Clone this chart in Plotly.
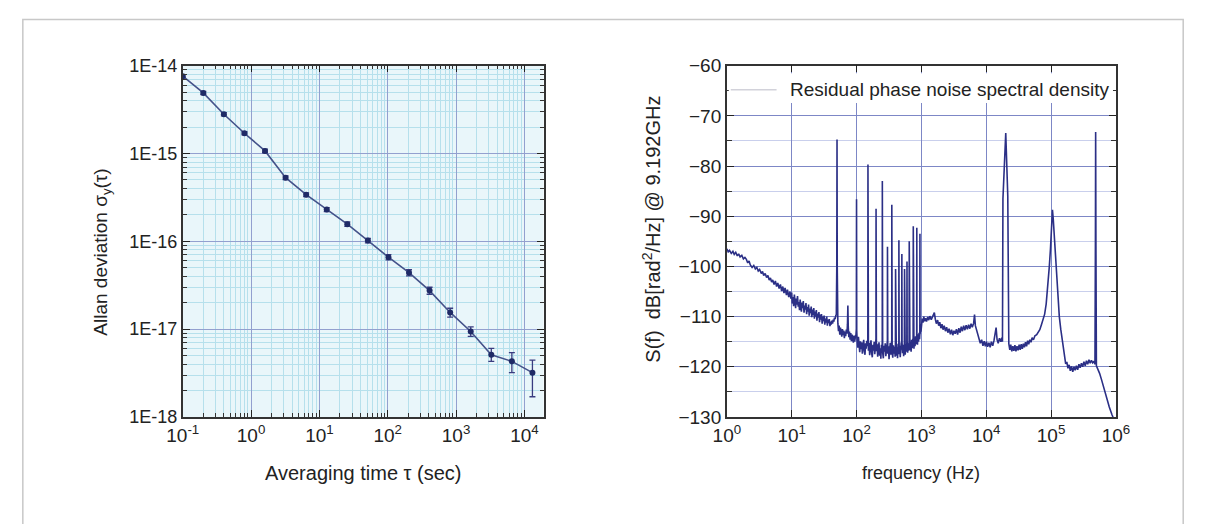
import plotly.graph_objects as go

W, H = 1205, 524

# ---------------- Left panel: Allan deviation ----------------
tau_sec = [0.1, 0.2, 0.4, 0.8, 1.6, 3.2, 6.4, 12.8, 25.6, 51.2, 102.4, 204.8,
           409.6, 819.2, 1638.4, 3276.8, 6553.6, 13107.2]
allan_dev = [7.6e-15, 4.9e-15, 2.8e-15, 1.7e-15, 1.07e-15, 5.3e-16, 3.4e-16,
             2.3e-16, 1.57e-16, 1.02e-16, 6.6e-17, 4.4e-17, 2.75e-17, 1.55e-17,
             9.4e-18, 5.1e-18, 4.3e-18, 3.2e-18]
err_up = [0.3e-15, 0.2e-15, 0.12e-15, 0.07e-15, 0.05e-15, 0.25e-16, 0.17e-16,
          0.12e-16, 0.09e-16, 0.06e-16, 0.45e-17, 0.35e-17, 0.25e-17, 0.18e-17,
          1.2e-18, 0.95e-18, 1.1e-18, 1.25e-18]
err_down = [0.3e-15, 0.2e-15, 0.12e-15, 0.07e-15, 0.05e-15, 0.25e-16, 0.17e-16,
            0.12e-16, 0.09e-16, 0.06e-16, 0.45e-17, 0.35e-17, 0.25e-17, 0.18e-17,
            1.1e-18, 0.8e-18, 1.1e-18, 1.5e-18]

left_x_tickvals = [0.1, 1, 10, 100, 1000, 10000]
left_x_ticktext = ["10<sup>-1</sup>", "10<sup>0</sup>", "10<sup>1</sup>",
                   "10<sup>2</sup>", "10<sup>3</sup>", "10<sup>4</sup>"]
left_y_tickvals = [1e-18, 1e-17, 1e-16, 1e-15, 1e-14]
left_y_ticktext = ["1E-18", "1E-17", "1E-16", "1E-15", "1E-14"]

# ---------------- Right panel: residual phase noise (Hz, dB) ----------------
spectrum_hz_db = [
    # 1 - 10 Hz
    (1.0, -96.5), (1.05, -97.1), (1.1, -96.8), (1.17, -97.4), (1.24, -97.0),
    (1.3, -97.6), (1.37, -97.2), (1.45, -97.9), (1.52, -97.5), (1.6, -98.1),
    (1.7, -97.8), (1.8, -98.5), (1.9, -98.2), (2.0, -98.6), (2.1, -99.3),
    (2.2, -98.9), (2.3, -99.7), (2.45, -100.2), (2.6, -99.8), (2.75, -100.5),
    (2.9, -100.2), (3.05, -100.9), (3.2, -100.6), (3.4, -101.4), (3.55, -101.0),
    (3.7, -101.8), (3.9, -101.4), (4.1, -102.2), (4.3, -101.8), (4.5, -102.7),
    (4.7, -102.3), (4.9, -103.1), (5.1, -102.7), (5.35, -103.6), (5.6, -102.9),
    (5.85, -104.0), (6.1, -103.3), (6.4, -104.4), (6.7, -103.6), (7.0, -104.9),
    (7.3, -104.0), (7.6, -105.3), (7.9, -104.3), (8.3, -105.7), (8.6, -104.6),
    (9.0, -106.1), (9.4, -105.0), (9.7, -106.4),
    # 10 - 50 Hz
    (10.0, -105.2), (10.2, -107.4), (10.5, -106.1), (10.7, -107.9), (11.0, -105.6),
    (11.2, -106.8), (11.5, -108.3), (11.7, -106.4), (12.0, -107.6), (12.3, -105.9),
    (12.6, -108.0), (12.9, -107.1), (13.2, -108.7), (13.5, -106.6), (13.8, -107.5),
    (14.1, -109.0), (14.5, -107.2), (14.8, -108.3), (15.1, -106.9), (15.5, -109.2),
    (15.9, -107.8), (16.2, -108.6), (16.6, -107.3), (17.0, -109.5), (17.4, -108.1),
    (17.8, -109.0), (18.2, -107.6), (18.6, -109.8), (19.1, -108.4), (19.5, -109.3),
    (20.0, -108.0), (20.4, -110.1), (20.9, -108.6), (21.4, -109.7), (21.9, -108.3),
    (22.4, -110.4), (22.9, -109.0), (23.4, -110.0), (24.0, -108.7), (24.5, -110.8),
    (25.1, -109.4), (25.7, -110.2), (26.3, -109.1), (26.9, -111.1), (27.5, -109.6),
    (28.2, -110.6), (28.8, -109.5), (29.5, -111.4), (30.2, -110.0), (30.9, -110.9),
    (31.6, -109.8), (32.4, -111.6), (33.1, -110.4), (33.9, -111.2), (34.7, -110.0),
    (35.5, -111.8), (36.3, -110.6), (37.2, -111.3), (38.0, -110.5), (38.9, -111.9),
    (39.8, -111.0), (40.7, -111.6), (41.7, -110.8), (42.7, -111.4), (43.7, -110.6),
    (44.7, -111.0), (45.7, -110.2), (46.8, -110.5), (47.9, -109.8), (48.8, -109.6),
    (49.6, -100.0), (50.0, -74.7), (50.4, -100.0),
    # 50 - 100 Hz
    (51.5, -111.3), (52.7, -112.9), (53.9, -111.8), (55.2, -113.6), (56.5, -112.2),
    (57.8, -113.1), (59.2, -114.0), (60.6, -112.5), (62.0, -113.7), (63.4, -112.8),
    (64.9, -114.3), (66.4, -113.0), (68.0, -113.9), (69.6, -112.6), (71.2, -113.4),
    (72.5, -111.5), (73.5, -107.8), (74.5, -112.0), (76.0, -114.1), (77.8, -113.0),
    (79.6, -114.6), (81.5, -113.3), (83.4, -114.9), (85.3, -113.6), (87.3, -114.4),
    (89.4, -115.2), (91.5, -113.8), (93.6, -115.0), (95.8, -114.1), (98.0, -113.6),
    (99.3, -112.5), (100.0, -86.6), (100.7, -112.8),
    # 100 - 1000 Hz with line harmonics
    (102, -114.6), (104.5, -116.2), (107, -114.0), (109.5, -115.7), (112, -117.1),
    (114.5, -114.9), (117, -116.5), (120, -115.1), (123, -117.4), (126, -115.8),
    (129, -114.6), (132, -116.9), (135, -117.6), (138, -115.3), (141, -116.4),
    (144, -114.8), (147.5, -115.9), (149.3, -114.5), (150, -79.7), (150.7, -114.5),
    (152.5, -116.8), (156, -115.2), (159.5, -117.7), (163, -116.0), (167, -114.7),
    (171, -117.3), (175, -118.1), (179, -115.6), (183, -116.8), (187, -115.0),
    (191, -117.5), (195, -116.2), (198, -114.6), (199.3, -114.4), (200, -88.5),
    (200.7, -114.6), (202.5, -116.9), (207, -115.4), (212, -118.0), (217, -116.6),
    (222, -115.1), (227, -117.8), (232, -116.3), (237, -118.4), (242, -115.6),
    (247, -116.5), (249.2, -115.0), (250, -83.0), (250.8, -115.2), (253, -117.2),
    (259, -118.3), (265, -115.8), (271, -117.0), (277, -115.3), (283, -117.9),
    (290, -116.4), (296.5, -115.5), (299.2, -114.8), (300, -96.1), (300.8, -115.0),
    (303.5, -117.4), (310, -115.9), (317, -118.5), (324, -116.7), (331, -115.2),
    (338, -117.6), (345.5, -115.9), (349.2, -115.0), (350, -87.7), (350.8, -115.3),
    (354.5, -117.1), (362, -118.2), (370, -115.7), (378, -117.4), (386, -116.0),
    (394, -118.0), (398, -115.6), (400, -100.5), (402.5, -115.5), (411, -117.8),
    (420, -116.1), (429, -118.3), (438, -115.4), (446, -116.8), (449.2, -115.1),
    (450, -94.8), (450.8, -115.3), (454, -117.5), (463, -115.8), (472, -118.1),
    (481, -116.4), (490, -115.1), (496.5, -116.6), (500, -97.5), (503.5, -115.2),
    (513, -117.3), (523, -115.6), (533, -117.9), (543, -116.2), (547, -115.3),
    (550, -100.5), (553.5, -115.4), (563, -117.6), (574, -115.5), (585, -117.0),
    (596.5, -115.4), (600, -99.0), (603.5, -115.0), (614, -117.2), (625, -115.3),
    (636, -116.8), (646.5, -114.9), (650, -95.0), (653.5, -114.8), (666, -116.7),
    (680, -115.0), (694, -117.0), (708, -114.6), (722, -116.3), (736, -114.4),
    (746, -115.4), (750, -92.0), (754, -114.6), (768, -116.4), (783, -114.2),
    (798, -115.9), (814, -113.9), (830, -115.5), (846, -114.1), (850, -92.3),
    (854, -114.0), (870, -115.6), (887, -113.5), (904, -115.0), (921, -113.2),
    (938, -114.5), (946, -113.6), (950, -93.5), (954, -113.5), (970, -112.4),
    (985, -113.0),
    # 1 kHz - 20 kHz
    (1000, -111.6), (1030, -110.4), (1060, -111.2), (1090, -110.0), (1120, -110.9),
    (1160, -110.3), (1200, -111.0), (1250, -110.1), (1300, -110.7), (1350, -109.9),
    (1420, -110.6), (1500, -109.8), (1585, -109.2), (1640, -110.5), (1700, -111.4),
    (1780, -110.7), (1850, -111.8), (1920, -111.1), (2000, -112.3), (2080, -111.5),
    (2160, -112.6), (2250, -111.8), (2350, -112.9), (2450, -112.1), (2560, -113.2),
    (2670, -112.4), (2800, -113.5), (2920, -112.6), (3050, -113.7), (3180, -112.8),
    (3320, -113.4), (3470, -112.5), (3620, -113.6), (3780, -112.3), (3950, -113.2),
    (4120, -112.0), (4300, -112.9), (4490, -111.8), (4690, -112.7), (4900, -111.7),
    (5120, -112.5), (5350, -111.6), (5590, -112.4), (5840, -111.4), (6100, -112.1),
    (6400, -111.3), (6600, -109.6), (6800, -111.8), (7100, -112.8), (7400, -113.6),
    (7700, -114.4), (8100, -115.3), (8500, -114.6), (8900, -115.8), (9300, -114.9),
    (9700, -115.9), (10100, -115.0), (10500, -116.0), (11000, -115.2),
    (11500, -116.1), (12000, -115.0), (12600, -115.8), (13200, -114.7),
    (13800, -113.5), (14200, -112.2), (14700, -114.6), (15300, -115.3),
    (16000, -114.3), (16800, -115.0), (17400, -114.2), (17800, -115.0),
    (18100, -86.5), (20000, -73.4), (21500, -86.0),
    # 20 kHz - 1 MHz
    (22300, -115.4), (23100, -116.6), (23900, -115.6), (24800, -116.9),
    (25700, -115.9), (26700, -116.8), (27700, -115.7), (28700, -116.9),
    (29800, -115.9), (31000, -116.7), (32200, -115.6), (33400, -116.6),
    (34700, -115.5), (36000, -116.4), (37400, -115.4), (38800, -116.1),
    (40300, -115.1), (41900, -115.9), (43500, -114.8), (45200, -115.5),
    (47000, -114.6), (49000, -115.1), (51000, -114.2), (53500, -114.6),
    (56400, -113.8), (60000, -113.6), (64000, -112.9), (67000, -112.6),
    (71000, -111.6), (75000, -110.7), (79600, -109.5), (84000, -107.5),
    (89300, -104.0), (94000, -100.0), (97900, -96.5), (101000, -92.0),
    (105000, -88.7), (108000, -90.5), (112000, -94.0), (117000, -99.0),
    (123000, -104.0), (128000, -107.5), (134000, -110.0), (141000, -112.5),
    (150000, -115.3), (158000, -117.5), (168000, -119.4), (175000, -119.0),
    (182000, -120.3), (190000, -119.6), (198000, -120.8), (207000, -119.9),
    (216000, -121.0), (225000, -120.0), (235000, -120.7), (246000, -119.8),
    (257000, -120.6), (269000, -119.5), (281000, -120.2), (294000, -119.3),
    (307000, -120.0), (321000, -119.0), (336000, -119.8), (351000, -118.8),
    (367000, -119.5), (384000, -118.6), (401000, -119.3), (419000, -118.7),
    (438000, -119.2), (458000, -118.9), (475000, -119.5), (483000, -95.0),
    (487000, -73.2), (492000, -96.0), (500000, -119.8), (530000, -120.5),
    (560000, -121.3), (598000, -122.5), (650000, -124.2), (710000, -126.3),
    (790000, -128.0), (867000, -129.5), (1000000, -131.5),
]
freq_hz = [p[0] for p in spectrum_hz_db]
phase_noise_db = [p[1] for p in spectrum_hz_db]

right_x_tickvals = [1, 10, 100, 1000, 10000, 100000, 1000000]
right_x_ticktext = ["10<sup>0</sup>", "10<sup>1</sup>", "10<sup>2</sup>",
                    "10<sup>3</sup>", "10<sup>4</sup>", "10<sup>5</sup>",
                    "10<sup>6</sup>"]
right_y_tickvals = [-130, -120, -110, -100, -90, -80, -70, -60]
right_y_ticktext = ["−130", "−120", "−110", "−100", "−90", "−80", "−70", "−60"]


def px(x):
    return x / W


def py(y):
    return 1 - y / H


FONT = "Liberation Sans, Arial, sans-serif"
NARROW = "Liberation Sans Narrow, Liberation Sans, Arial, sans-serif"

fig = go.Figure()

fig.add_trace(go.Scatter(
    x=tau_sec, y=allan_dev, mode="lines+markers",
    line=dict(color="#44528a", width=1.6),
    marker=dict(color="#1f2a66", size=6),
    error_y=dict(type="data", symmetric=False, array=err_up,
                 arrayminus=err_down, color="#3a3c80", thickness=1.3, width=3),
    xaxis="x", yaxis="y", showlegend=False))

fig.add_trace(go.Scatter(
    x=freq_hz, y=phase_noise_db, mode="lines",
    line=dict(color="#2b2f86", width=1.6),
    xaxis="x2", yaxis="y2", showlegend=False))

y_dom = [py(424), py(58)]

fig.update_layout(
    width=W, height=H,
    margin=dict(l=0, r=0, t=0, b=0),
    paper_bgcolor="white",
    plot_bgcolor="white",
    showlegend=False,
    xaxis=dict(
        type="log", range=[-1, 4.28], domain=[px(171), px(541)], anchor="y",
        tickmode="array", tickvals=left_x_tickvals, ticktext=left_x_ticktext,
        ticks="inside", ticklen=7, tickwidth=1.2, tickcolor="#222",
        showline=True, linecolor="#333", linewidth=1.6, mirror="allticks",
        showgrid=True, gridcolor="#93a0cf", gridwidth=1.2,
        minor=dict(dtick="D1", ticks="inside", ticklen=4, tickcolor="#333",
                   showgrid=True, gridcolor="#b6e0ec", gridwidth=1),
        tickfont=dict(family=NARROW, size=19, color="#222"),
        zeroline=False),
    yaxis=dict(
        type="log", range=[-18, -14], domain=y_dom, anchor="x",
        tickmode="array", tickvals=left_y_tickvals, ticktext=left_y_ticktext,
        ticks="inside", ticklen=7, tickwidth=1.2, tickcolor="#222",
        showline=True, linecolor="#333", linewidth=1.6, mirror="allticks",
        showgrid=True, gridcolor="#93a0cf", gridwidth=1.2,
        minor=dict(dtick="D1", ticks="inside", ticklen=4, tickcolor="#333",
                   showgrid=True, gridcolor="#b6e0ec", gridwidth=1),
        tickfont=dict(family=FONT, size=18, color="#222"),
        zeroline=False),
    xaxis2=dict(
        type="log", range=[0, 6], domain=[px(729), px(1128)], anchor="y2",
        tickmode="array", tickvals=right_x_tickvals, ticktext=right_x_ticktext,
        ticks="inside", ticklen=7, tickwidth=1.2, tickcolor="#222",
        showline=True, linecolor="#333", linewidth=1.6, mirror="allticks",
        showgrid=True, gridcolor="#7d87c6", gridwidth=1.4,
        tickfont=dict(family=NARROW, size=19, color="#222"),
        zeroline=False),
    yaxis2=dict(
        range=[-130, -60], domain=y_dom, anchor="x2",
        tickmode="array", tickvals=right_y_tickvals, ticktext=right_y_ticktext,
        ticks="inside", ticklen=7, tickwidth=1.2, tickcolor="#222",
        showline=True, linecolor="#333", linewidth=1.6, mirror="allticks",
        showgrid=True, gridcolor="#7d87c6", gridwidth=1.4,
        minor=dict(dtick=5, ticks="inside", ticklen=5, tickcolor="#333",
                   showgrid=True, gridcolor="#c9cfec", gridwidth=1),
        tickfont=dict(family=FONT, size=19, color="#222"),
        zeroline=False),
)

# light cyan tint in the Allan plot area
fig.add_shape(type="rect", xref="paper", yref="paper",
              x0=px(171), x1=px(541), y0=y_dom[0], y1=y_dom[1],
              fillcolor="#e9f6fa", line=dict(width=0), layer="below")

# outer frame
fig.add_shape(type="rect", xref="paper", yref="paper",
              x0=px(7), x1=px(1197), y0=py(540), y1=py(10),
              line=dict(color="#c8c8c8", width=1.5), fillcolor="rgba(0,0,0,0)")

# white legend box of the right panel (hides grid behind the legend)
fig.add_shape(type="rect", xref="paper", yref="paper",
              x0=px(731), x1=px(1125), y0=py(97), y1=py(66),
              fillcolor="white", line=dict(width=0), layer="above")

# legend sample line of the right panel
fig.add_shape(type="line", xref="paper", yref="paper",
              x0=px(733), x1=px(780), y0=py(83), y1=py(83),
              line=dict(color="#d2d2da", width=1.5))

annotations = [
    dict(text="Residual phase noise spectral density", x=px(792), y=py(83),
         xanchor="left", yanchor="middle", font=dict(family=FONT, size=19, color="#222")),
    dict(text="Allan deviation σ<sub>y</sub>(τ)", x=px(88), y=py(252),
         textangle=-90, xanchor="center", yanchor="middle",
         font=dict(family=FONT, size=19, color="#222")),
    dict(text="Averaging time τ (sec)", x=px(356), y=py(482),
         xanchor="center", yanchor="middle",
         font=dict(family=NARROW, size=20, color="#222")),
    dict(text="S(f)  dB[rad<sup>2</sup>/Hz] @ 9.192GHz", x=px(652), y=py(228),
         textangle=-90, xanchor="center", yanchor="middle",
         font=dict(family=FONT, size=20, color="#222")),
    dict(text="frequency (Hz)", x=px(928), y=py(482),
         xanchor="center", yanchor="middle",
         font=dict(family=NARROW, size=18, color="#222")),
]
for a in annotations:
    a.update(xref="paper", yref="paper", showarrow=False)
fig.update_layout(annotations=annotations)

fig.write_html("out.html")
